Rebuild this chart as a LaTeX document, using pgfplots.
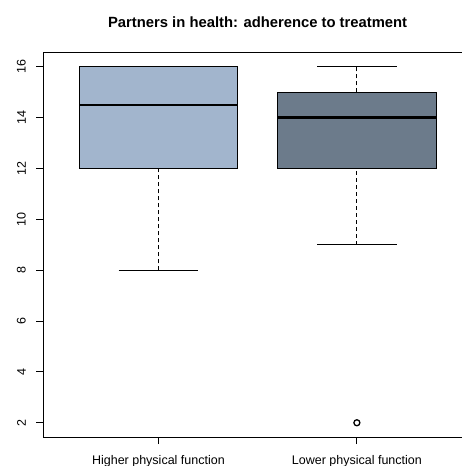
\documentclass[border=0pt]{standalone}
\usepackage{fontspec}
\setmainfont{Liberation Sans}
\usepackage{pgfplots}
\pgfplotsset{compat=1.18}
\definecolor{boxhigh}{RGB}{162,181,205}
\definecolor{boxlow}{RGB}{108,123,139}

\pgfplotsset{
  whisker/.style={black, line width=0.9pt, dash pattern=on 4pt off 3pt},
  cap/.style={black, line width=0.9pt, solid},
  box/.style={draw=black, line width=0.9pt, solid},
  median/.style={black, line width=2.8pt, solid},
}

\begin{document}
\begin{tikzpicture}
\begin{axis}[
  anchor=south west, at={(0pt,0pt)},
  scale only axis, width=428.7pt, height=384.3pt,
  xmin=0.42, xmax=2.58, ymin=1.44, ymax=16.56,
  xtick={1,2},
  xticklabels={Higher physical function, Lower physical function},
  ytick={2,4,...,16},
  xtick pos=bottom, ytick pos=left, tick align=outside,
  major tick length=7pt,
  every tick/.style={black, line width=0.9pt},
  axis line style={line width=0.9pt},
  /pgf/number format/assume math mode=true,
  ticklabel style={font=\fontsize{12.5}{15}\selectfont},
  yticklabel style={rotate=90, anchor=south, inner xsep=0pt, inner ysep=10.3pt},
  xticklabel style={anchor=north, inner xsep=0pt, inner ysep=11pt},
  every axis title/.style={at={(0.5,1)}, anchor=base, yshift=25pt,
    font=\bfseries\fontsize{14.8}{18}\selectfont},
  title={Partners in health: adherence to treatment},
]
% Higher physical function: whiskers 8 / 16, quartiles 12 / 16, median 14.5
\addplot[whisker] coordinates {(1,8) (1,12)};
\addplot[whisker] coordinates {(1,16) (1,16)};
\addplot[cap] coordinates {(0.8,8) (1.2,8)};
\addplot[cap] coordinates {(0.8,16) (1.2,16)};
\addplot[box, fill=boxhigh] coordinates {(0.6,12) (1.4,12) (1.4,16) (0.6,16)} -- cycle;
\addplot[median] coordinates {(0.6,14.5) (1.4,14.5)};

% Lower physical function: whiskers 9 / 16, quartiles 12 / 15, median 14
\addplot[whisker] coordinates {(2,9) (2,12)};
\addplot[whisker] coordinates {(2,15) (2,16)};
\addplot[cap] coordinates {(1.8,9) (2.2,9)};
\addplot[cap] coordinates {(1.8,16) (2.2,16)};
\addplot[box, fill=boxlow] coordinates {(1.6,12) (2.4,12) (2.4,15) (1.6,15)} -- cycle;
\addplot[median] coordinates {(1.6,14) (2.4,14)};

% outlier of the second group
\addplot[only marks, mark=o, mark size=3pt, mark options={black, line width=1.3pt}]
  coordinates {(2,2)};
\end{axis}
% page window: the right frame edge lies beyond the visible area
\pgfresetboundingbox
\path[use as bounding box] (-43.3pt,-29pt) rectangle (417.7pt,437pt);
\end{tikzpicture}
\end{document}
